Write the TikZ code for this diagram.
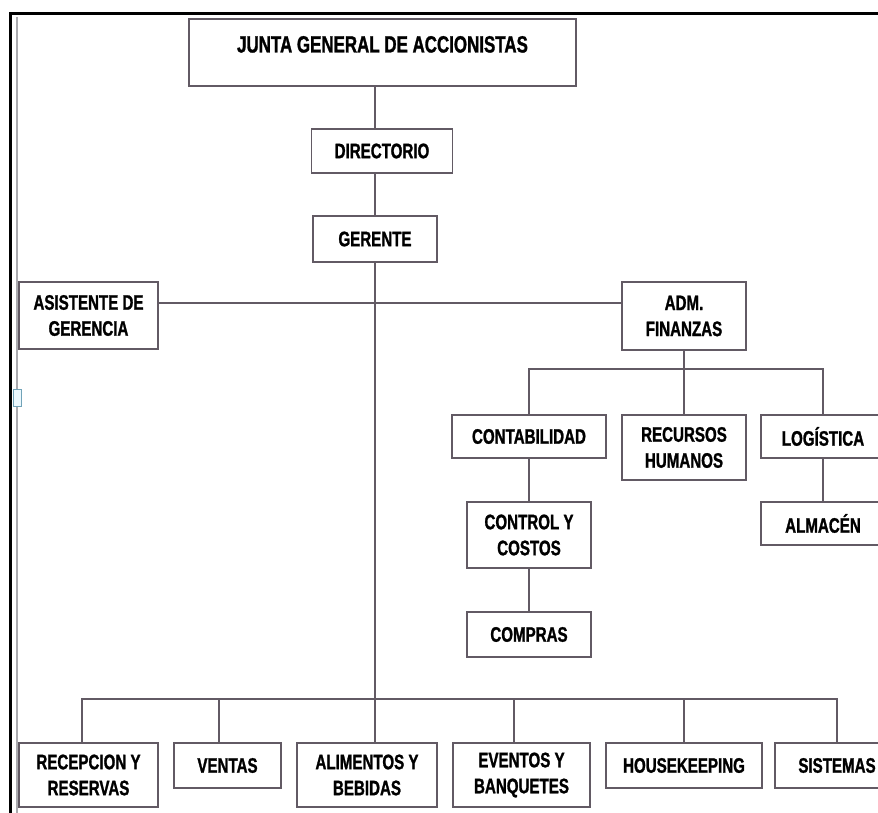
\documentclass[tikz,border=0pt]{standalone}
\usepackage{fontspec}
\newfontfamily\orgfont[FakeStretch=0.72,FakeBold=1.2]{Liberation Sans}
\definecolor{boxgray}{RGB}{98,90,100}
\definecolor{framegray}{RGB}{170,170,175}
\begin{document}
\begin{tikzpicture}[
            x=1pt, y=-1pt,
            s/.style={draw=boxgray,line width=1.6pt,rectangle,fill=white,inner sep=0pt,align=center,
                font=\orgfont\bfseries\fontsize{21}{26}\selectfont},
            big/.style={font=\orgfont\bfseries\fontsize{23.5}{26}\selectfont},
            one/.style={minimum height=44pt},
            two/.style={minimum height=65pt},
            l/.style={draw=boxgray,line width=1.6pt},
        ]

        % page and frame
        \fill[white] (0,0) rectangle (878,813);
        \useasboundingbox (0,0) rectangle (878,813);
        \draw[black,line width=3pt] (10.5,813) -- (10.5,14) -- (878,14);
        \draw[framegray,line width=2pt] (16.5,17) -- (16.5,813);
        \draw[cyan!40!gray,fill=cyan!8,line width=1pt] (13,389) rectangle (21,406);

        % top
        \node[s,big,minimum width=387pt,minimum height=67pt,text height=16pt,text depth=16pt] (junta) at (382.5,52.5) {JUNTA GENERAL DE ACCIONISTAS};
        \node[s,one,minimum width=141pt] (directorio) at (382,151) {DIRECTORIO};
        \node[s,one,minimum width=124pt,minimum height=46pt] (gerente) at (375,239) {GERENTE};
        \node[s,two,minimum width=139pt,minimum height=67pt] (asistente) at (88.5,315.5) {ASISTENTE DE\\GERENCIA};
        \node[s,two,minimum width=124pt,minimum height=68pt] (adm) at (684,316) {ADM.\\FINANZAS};

        % finanzas
        \node[s,one,minimum width=154pt,minimum height=43pt] (contab) at (529,436.5) {CONTABILIDAD};
        \node[s,two,minimum width=124pt] (rrhh) at (684,447.5) {RECURSOS\\HUMANOS};
        \node[s,one,minimum width=124pt,minimum height=43pt] (logis) at (823,436.5) {LOGÍSTICA};
        \node[s,one,minimum width=124pt,minimum height=43pt] (almacen) at (823,523.5) {ALMACÉN};
        \node[s,two,minimum width=124pt,minimum height=66pt] (control) at (529,535) {CONTROL Y\\COSTOS};
        \node[s,one,minimum width=124pt,minimum height=45pt] (compras) at (529,634.5) {COMPRAS};

        % bottom row
        \node[s,minimum width=139pt,minimum height=64pt] (recep) at (88.5,775) {RECEPCION Y\\RESERVAS};
        \node[s,minimum width=107pt,minimum height=45pt] (ventas) at (227.5,765.5) {VENTAS};
        \node[s,minimum width=140pt,minimum height=64pt] (alimentos) at (367,775) {ALIMENTOS Y\\BEBIDAS};
        \node[s,minimum width=137pt,minimum height=64pt] (eventos) at (521.5,775) {EVENTOS Y\\BANQUETES};
        \node[s,minimum width=156pt,minimum height=45pt] (housek) at (684,765.5) {HOUSEKEEPING};
        \node[s,minimum width=124pt,minimum height=45pt] (sistemas) at (837,765.5) {SISTEMAS};

        \coordinate (tee) at (375,303);
        \coordinate (fbus) at (684,369);
        \coordinate (bbus) at (375,699);

        \draw[l] (junta.south -| gerente) -- (directorio.north -| gerente);
        \draw[l] (directorio.south -| gerente) -- (gerente.north);
        \draw[l] (gerente.south) -- (alimentos.north -| gerente);
        \draw[l] (asistente.east |- tee) -- (adm.west |- tee);

        \draw[l] (adm.south) -- (rrhh.north);
        \draw[l] (contab.north) |- (fbus) -| (logis.north);
        \draw[l] (contab.south) -- (control.north);
        \draw[l] (control.south) -- (compras.north);
        \draw[l] (logis.south) -- (almacen.north);

        \draw[l] ([xshift=-6.5pt]recep.north) |- (bbus) -| (sistemas.north);
        \foreach \n/\dx in {ventas/-8.5,eventos/-7.5,housek/0}
            \draw[l] ([xshift=\dx pt]\n.north) -- ([xshift=\dx pt]\n.north |- bbus);

\end{tikzpicture}
\end{document}
